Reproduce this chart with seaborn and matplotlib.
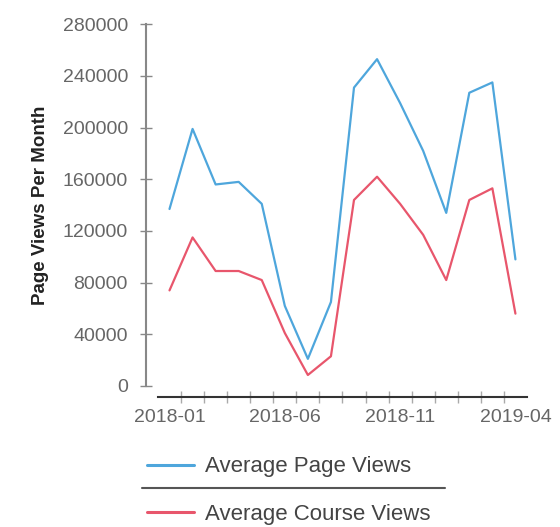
import numpy as np
import pandas as pd
import matplotlib
matplotlib.use("Agg")
import matplotlib.pyplot as plt
from matplotlib.lines import Line2D
from matplotlib.ticker import FixedLocator
import seaborn as sns

# 월별 데이터
months = ["2018-01", "2018-02", "2018-03", "2018-04", "2018-05", "2018-06",
          "2018-07", "2018-08", "2018-09", "2018-10", "2018-11", "2018-12",
          "2019-01", "2019-02", "2019-03", "2019-04"]
page_views = [137000, 199000, 156000, 158000, 141000, 62000, 21000, 65000,
              231000, 253000, 219000, 182000, 134000, 227000, 235000, 98000]
course_views = [74000, 115000, 89000, 89000, 82000, 41000, 8500, 23000,
                144000, 162000, 141000, 117000, 82000, 144000, 153000, 56000]
series_names = ["Average Page Views", "Average Course Views"]
palette = ["#4ea6dc", "#e8566c"]

df = pd.DataFrame({
    "pos": list(range(len(months))) * 2,
    "value": page_views + course_views,
    "series": [series_names[0]] * len(months) + [series_names[1]] * len(months),
})

sns.set_style("white")
plt.rcParams["font.family"] = ["Liberation Sans", "DejaVu Sans"]

fig = plt.figure(figsize=(5.6, 5.27), dpi=100)
ax = fig.add_axes([0.2821, 0.2676, 0.6589, 0.6863])

sns.lineplot(data=df, x="pos", y="value", hue="series", palette=palette,
             linewidth=1.6, ax=ax, legend=False)

ax.set_xlim(-0.5, len(months) - 0.5)
ax.set_ylim(0, 280000)

# y축
ax.set_yticks(np.arange(0, 280001, 40000))
ax.tick_params(axis="y", left=True, direction="inout", length=8, width=1,
               color="#888888", labelsize=14, labelcolor="#666666", pad=9)

# x축: 5개월마다 라벨, 경계에 작은 눈금
label_pos = list(range(0, len(months), 5))
ax.set_xticks(label_pos)
ax.set_xticklabels([months[i] for i in label_pos])
ax.xaxis.set_minor_locator(FixedLocator(np.arange(0.5, len(months) - 1, 1.0)))
ax.tick_params(axis="x", which="major", bottom=True, length=0, labelsize=14,
               labelcolor="#666666", pad=9)
ax.tick_params(axis="x", which="minor", bottom=True, direction="inout",
               length=9, width=1, color="#aaaaaa")

ax.set_xlabel("")
ax.set_ylabel("Page Views Per Month", fontsize=13.5, fontweight="bold", color="#222222")
ax.yaxis.set_label_coords(-0.295, 0.5)

sns.despine(ax=ax)
ax.spines["left"].set_position(("outward", 8.6))
ax.spines["left"].set_color("#888888")
ax.spines["left"].set_linewidth(1.5)
ax.spines["bottom"].set_position(("outward", 7.6))
ax.spines["bottom"].set_color("#333333")
ax.spines["bottom"].set_linewidth(1.5)

# 범례 (아래쪽, 구분선 포함)
handles = [Line2D([], [], color=c, linewidth=2.2) for c in palette]
leg = fig.legend(handles, series_names, loc="upper left",
                 bbox_to_anchor=(0.2625, 0.134), bbox_transform=fig.transFigure,
                 frameon=False, fontsize=16, handlelength=2.1, handletextpad=0.5,
                 labelspacing=1.2, borderpad=0, borderaxespad=0)
for t in leg.get_texts():
    t.set_color("#444444")
fig.add_artist(Line2D([142 / 560, 445 / 560], [1 - 488 / 527] * 2,
                      color="#555555", linewidth=1.5, transform=fig.transFigure))

fig.savefig("out.png", dpi=100)
